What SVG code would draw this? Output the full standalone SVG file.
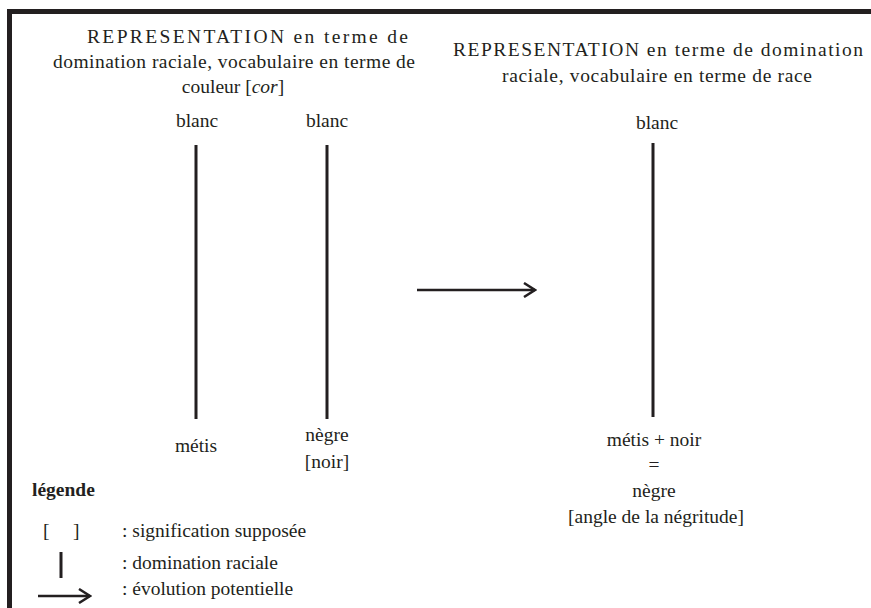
<svg xmlns="http://www.w3.org/2000/svg" width="871" height="608" viewBox="0 0 871 608">
<style>
text{font-family:"Liberation Serif","Times New Roman",serif;font-size:19.5px;fill:#231f20}
.c{text-anchor:middle}
.b{font-weight:bold}
.ln{stroke:#231f20;stroke-width:3;fill:none}
.ar{stroke:#231f20;stroke-width:2.5;fill:none}
</style>
<defs>
<marker id="head" markerWidth="14" markerHeight="16" refX="12" refY="8" orient="auto" markerUnits="userSpaceOnUse">
<polyline points="1,1 12,8 1,15" fill="none" stroke="#231f20" stroke-width="2.5"/>
</marker>
</defs>
<rect width="871" height="608" fill="#ffffff"/>
<g id="frame">
<rect x="7" y="9" width="864" height="5" fill="#231f20"/>
<rect x="7" y="9" width="5" height="599" fill="#231f20"/>
</g>
<g id="title-left">
<text x="87" y="43" textLength="321" lengthAdjust="spacing">REPRESENTATION en terme de</text>
<text x="53" y="68" textLength="362" lengthAdjust="spacing">domination raciale, vocabulaire en terme de</text>
<text x="233" y="93" class="c">couleur [<tspan font-style="italic">cor</tspan>]</text>
</g>
<g id="title-right">
<text x="453" y="56" textLength="410" lengthAdjust="spacing">REPRESENTATION en terme de domination</text>
<text x="502" y="82" textLength="310" lengthAdjust="spacing">raciale, vocabulaire en terme de race</text>
</g>
<g id="node-blanc1"><text x="197" y="127" class="c">blanc</text></g>
<g id="node-blanc2"><text x="327" y="127" class="c">blanc</text></g>
<g id="node-blanc3"><text x="657" y="129" class="c">blanc</text></g>
<g id="node-metis"><text x="196" y="452" class="c">métis</text></g>
<g id="node-negre"><text x="327" y="441" class="c">nègre</text><text x="327" y="468" class="c">[noir]</text></g>
<g id="node-result">
<text x="654" y="446" class="c">métis + noir</text>
<text x="654" y="471" class="c">=</text>
<text x="654" y="497" class="c">nègre</text>
<text x="656" y="523" class="c">[angle de la négritude]</text>
</g>
<g id="connectors">
<line class="ln" x1="196" y1="145" x2="196" y2="419"/>
<line class="ln" x1="327" y1="145" x2="327" y2="419"/>
<line class="ln" x1="653" y1="143" x2="653" y2="417"/>
<line class="ar" x1="417" y1="290" x2="535" y2="290" marker-end="url(#head)"/>
</g>
<g id="legend">
<text x="32" y="496" class="b">légende</text>
<text x="43" y="537">[</text>
<text x="73" y="537">]</text>
<text x="122" y="537">: signification supposée</text>
<line class="ln" x1="61" y1="552" x2="61" y2="578"/>
<text x="122" y="569">: domination raciale</text>
<line class="ar" x1="38" y1="596" x2="90" y2="596" marker-end="url(#head)"/>
<text x="122" y="595">: évolution potentielle</text>
</g>
</svg>
